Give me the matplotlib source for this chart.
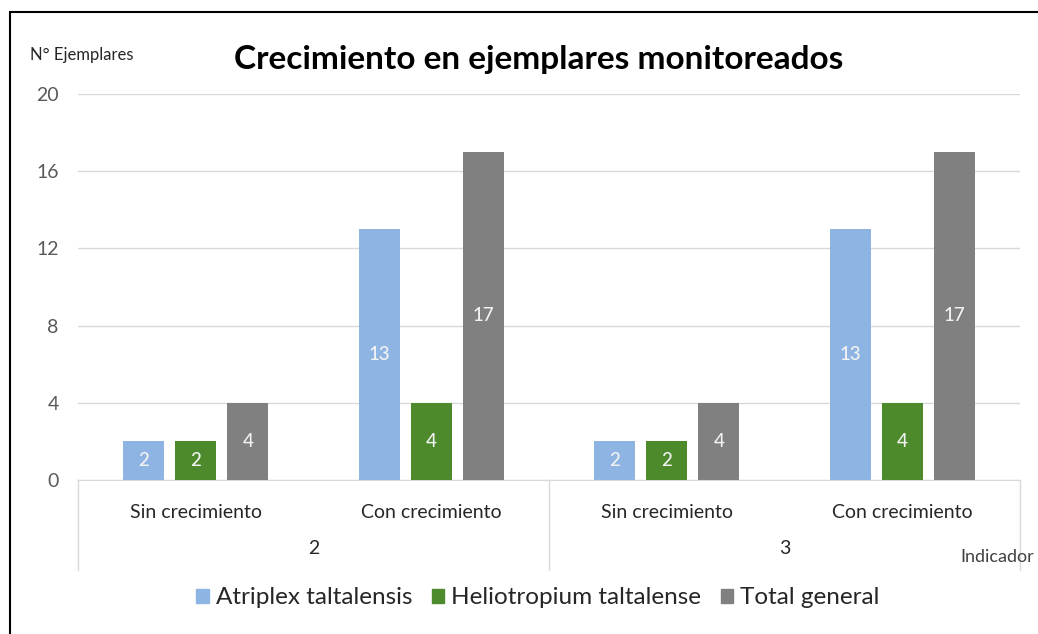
import matplotlib
matplotlib.use("Agg")
import matplotlib.pyplot as plt
from matplotlib.transforms import blended_transform_factory
from matplotlib.patches import Rectangle, Patch

plt.rcParams['font.family'] = ['Lato', 'DejaVu Sans']

categories = ["Sin crecimiento", "Con crecimiento", "Sin crecimiento", "Con crecimiento"]
groups = ["2", "3"]
series_names = ["Atriplex taltalensis", "Heliotropium taltalense", "Total general"]
atriplex = [2, 13, 2, 13]
heliotropium = [2, 4, 2, 4]
total = [4, 17, 4, 17]
yticks = [0, 4, 8, 12, 16, 20]

colors = ["#8EB4E3", "#4C8A2B", "#808080"]

W, H = 1038, 634
fig = plt.figure(figsize=(W / 100, H / 100), dpi=100)
fig.patch.set_facecolor("white")

# outer black frame
fig.add_artist(Rectangle((10 / W, -0.01), 1.2, 1 - 12 / H + 0.01, transform=fig.transFigure,
                         fill=False, edgecolor="black", linewidth=1.5))

ax = fig.add_axes([78 / W, (H - 480) / H, (1020 - 78) / W, (480 - 94) / H])
ax.set_facecolor("white")

x = list(range(len(categories)))
offs = [-0.221, 0.0, 0.221]
width = 0.175
for vals, off, c in zip([atriplex, heliotropium, total], offs, colors):
    xs = [xi + off for xi in x]
    bars = ax.bar(xs, vals, width=width, color=c, zorder=3)
    for b, v in zip(bars, vals):
        ax.text(b.get_x() + b.get_width() / 2, v / 2, str(v), ha="center", va="center",
                color="#f2f2f2", fontsize=13.5, fontweight="medium", zorder=4)

ax.set_xlim(-0.5, 3.5)
ax.set_ylim(0, 20)
ax.set_yticks(yticks)
ax.set_yticklabels([str(t) for t in yticks], fontsize=14, color="#595959")
ax.tick_params(axis="y", length=0, pad=14)
ax.set_xticks([])
ax.grid(axis="y", color="#d9d9d9", linewidth=1, zorder=0)
for s in ["left", "right", "top"]:
    ax.spines[s].set_visible(False)
ax.spines["bottom"].set_color("#d9d9d9")

tr = blended_transform_factory(ax.transData, ax.transAxes)
ppy = 1 / (480 - 94)
for i, c in enumerate(categories):
    ax.text(i, -(513 - 480) * ppy, c, transform=tr, ha="center", va="center",
            fontsize=14, color="#262626")
for g, xc in zip(groups, [0.5, 2.5]):
    ax.text(xc, -(549 - 480) * ppy, g, transform=tr, ha="center", va="center",
            fontsize=14, color="#262626")
for xv in [-0.5, 1.5, 3.5]:
    ax.plot([xv, xv], [0, -(570 - 480) * ppy], transform=tr, color="#d9d9d9",
            linewidth=1, clip_on=False)

fig.text(1034 / W, 1 - 557 / H, "Indicador", fontsize=13, color="#404040", va="center", ha="right")

fig.text(539 / W, 1 - 60 / H, "Crecimiento en ejemplares monitoreados", ha="center", va="center",
         fontsize=24, fontweight="bold", color="black")
fig.text(30 / W, 1 - 55 / H, "N° Ejemplares", ha="left", va="center", fontsize=12, color="#262626")

# legend
handles = [Patch(facecolor=c, edgecolor=c) for c in colors]
leg = fig.legend(handles, series_names, loc="center", bbox_to_anchor=(538 / W, 1 - 598 / H),
                 ncol=3, frameon=False, fontsize=17.5, handlelength=0.5, handleheight=0.5,
                 handletextpad=0.3, columnspacing=0.8, labelcolor="#262626")

fig.savefig("out.png", dpi=100, facecolor="white")
